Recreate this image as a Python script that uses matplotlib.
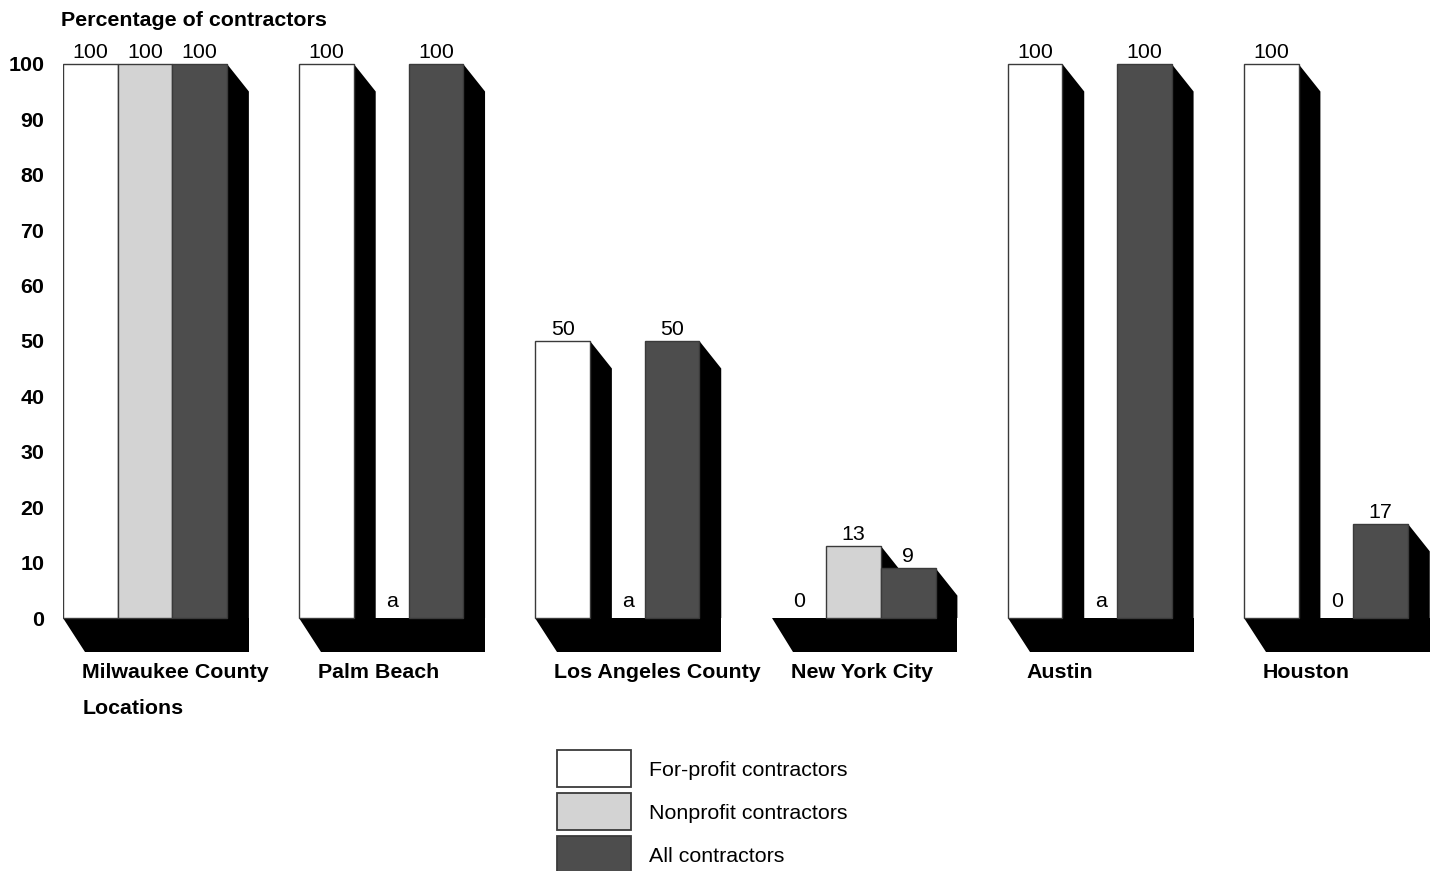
import numpy as np
import matplotlib
matplotlib.use("Agg")
import matplotlib.pyplot as plt
from matplotlib.patches import Polygon, Rectangle

plt.rcParams['font.family'] = ['Liberation Sans', 'DejaVu Sans']

# ---------------- data ----------------
groups = ["Milwaukee County", "Palm Beach", "Los Angeles County",
          "New York City", "Austin", "Houston"]
for_profit = [100, 100, 50, 0, 100, 100]
nonprofit = [100, np.nan, np.nan, 13, np.nan, 0]   # nan -> "a"
all_contr = [100, 100, 50, 9, 100, 17]
series_names = ["For-profit contractors", "Nonprofit contractors", "All contractors"]
series_colors = ["#ffffff", "#d3d3d3", "#4d4d4d"]
yticks = list(range(0, 101, 10))
ylabel = "Percentage of contractors"
xlabel = "Locations"
na_label = "a"

# ---------------- layout ----------------
W, H, DPI = 1437, 871, 100
fig = plt.figure(figsize=(W / DPI, H / DPI), dpi=DPI)
px_left, px_right, px_top, px_bot = 63, 1430, 30, 660
ax = fig.add_axes([px_left / W, (H - px_bot) / H,
                   (px_right - px_left) / W, (px_bot - px_top) / H])
bar_px = 54.67
unit_px = 5.54
y0_px = 618
ax.set_xlim(0, (px_right - px_left) / bar_px)
ax.set_ylim((y0_px - px_bot) / unit_px, (y0_px - px_top) / unit_px)

group_step = 4.32
dx = 0.4
dy_top = 27.5 / unit_px
dy_floor = 34 / unit_px
FS = 15.4
edge = "#3a3a3a"

series = [for_profit, nonprofit, all_contr]
for g, name in enumerate(groups):
    gx = g * group_step
    n = len(series)
    # floor shadow
    ax.add_patch(Polygon([(gx, 0), (gx + n + dx, 0), (gx + n + dx, -dy_floor),
                          (gx + dx, -dy_floor)], closed=True,
                         facecolor="black", edgecolor="none", zorder=1))
    prev_h = 0
    for i, s in enumerate(series):
        v = s[g]
        h = 0 if np.isnan(v) else v
        x0 = gx + i
        if h > 0:
            # side shadow
            ax.add_patch(Polygon([(x0 + 1, h), (x0 + 1 + dx, h - dy_top),
                                  (x0 + 1 + dx, 0), (x0 + 1, 0)], closed=True,
                                 facecolor="black", edgecolor="none", zorder=1))
            ax.bar(x0, h, width=1, align="edge", color=series_colors[i],
                   edgecolor=edge, linewidth=1.0, zorder=2)
            ax.text(x0 + 0.5, h + 1.1, f"{int(v)}", ha="center", va="baseline",
                    fontsize=FS, zorder=4, clip_on=False)
        else:
            lbl = na_label if np.isnan(v) else f"{int(v)}"
            cx = x0 + 0.5 + (dx / 2 if prev_h > 0 else 0)
            ax.text(cx, 1.9, lbl, ha="center", va="baseline", fontsize=FS,
                    zorder=4, clip_on=False)
        prev_h = h
    ax.text(gx + 0.35, -9.75, name, ha="left", va="center", fontsize=FS,
            fontweight="bold", clip_on=False)

ax.text(0.35, -16.4, xlabel, ha="left", va="center", fontsize=FS,
        fontweight="bold", clip_on=False)

ax.set_yticks(yticks)
ax.set_yticklabels([str(t) for t in yticks], fontsize=FS, fontweight="bold")
ax.tick_params(axis="y", length=0, pad=13.5)
ax.set_xticks([])
for sp in ax.spines.values():
    sp.set_visible(False)

fig.text(61 / W, 1 - 20 / H, ylabel, ha="left", va="center", fontsize=FS,
         fontweight="bold")

# ---------------- legend ----------------
lax = fig.add_axes([0, 0, 1, 1], zorder=5)
lax.set_xlim(0, W)
lax.set_ylim(H, 0)
lax.axis("off")
lax.patch.set_alpha(0)
for k, (nm, col) in enumerate(zip(series_names, series_colors)):
    top = 750 + 43 * k
    lax.add_patch(Rectangle((557, top), 74, 37, facecolor=col,
                            edgecolor=edge, linewidth=1.3))
    lax.text(649, top + 20, nm, ha="left", va="center", fontsize=FS)

fig.savefig("out.png", dpi=DPI)
